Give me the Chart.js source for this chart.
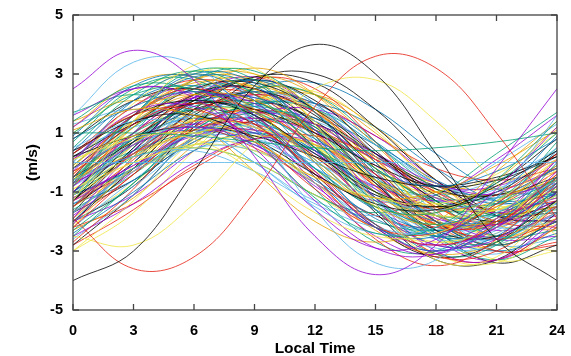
<!DOCTYPE html>
<html>
<head>
<meta charset="utf-8">
<script src="https://cdn.jsdelivr.net/npm/chart.js@4.4.0/dist/chart.umd.min.js"></script>
<style>
  html, body { margin: 0; padding: 0; background: #fff; }
  canvas { display: block; }
</style>
</head>
<body>
<canvas id="chart" width="571" height="356"></canvas>
<script>
const hours = [0, 3, 6, 9, 12, 15, 18, 21, 24];
const xTicks = [0, 3, 6, 9, 12, 15, 18, 21, 24];
const yTicks = [-5, -3, -1, 1, 3, 5];

// gnuplot style line colours
const palette = ['#9400d3', '#009e73', '#56b4e9', '#e69f00', '#f0e442', '#0072b2', '#e51e10', '#000000'];

// the few curves that stick out of the bundle
const outliers = [
  [2.5, 3.8, 2.8, 0.2, -2.5, -3.8, -2.8, -0.2, 2.5],
  [1.6, 3.4, 3.3, 1.2, -1.6, -3.4, -3.3, -1.2, 1.6],
  [-4.0, -3.0, -0.3, 2.6, 4.0, 3.0, 0.3, -2.6, -4.0],
  [-1.9, -3.6, -3.2, -1.0, 1.9, 3.6, 3.2, 1.0, -1.9],
  [-2.5, -2.8, -1.4, 0.7, 2.5, 2.8, 1.4, -0.7, -2.5],
  [-1.3, 1.4, 3.3, 3.2, 1.3, -1.4, -3.3, -3.2, -1.3],
  [0, 0, 0, 0, 0, 0, 0, 0, 0],
  [1.0, 1.0, 0.9, 0.7, 0.5, 0.4, 0.5, 0.7, 1.0]
];
const outlierColors = ['#9400d3', '#56b4e9', '#000000', '#e51e10', '#f0e442', '#f0e442', '#56b4e9', '#009e73'];

// the main bundle of curves
const bundle = [
  [1.2, 2.5, 2.2, 0.5, -1.6, -2.9, -2.6, -0.9, 1.2],
  [1.4, 2.6, 2.4, 0.8, -1.2, -2.4, -2.2, -0.6, 1.4],
  [0.5, 1.4, 1.2, 0.0, -1.5, -2.4, -2.2, -1.0, 0.5],
  [1.1, 1.8, 1.6, 0.7, -0.5, -1.2, -1.0, -0.1, 1.1],
  [0.1, 0.9, 0.8, -0.3, -1.7, -2.5, -2.4, -1.3, 0.1],
  [0.9, 2.6, 2.9, 1.6, -0.5, -2.2, -2.5, -1.2, 0.9],
  [0.3, 1.6, 1.8, 0.8, -0.9, -2.2, -2.4, -1.4, 0.3],
  [0.4, 1.4, 1.6, 0.8, -0.4, -1.4, -1.6, -0.8, 0.4],
  [0.1, 1.7, 1.9, 0.7, -1.3, -2.9, -3.1, -1.9, 0.1],
  [1.0, 2.3, 2.5, 1.5, -0.2, -1.5, -1.7, -0.7, 1.0],
  [-0.6, 0.2, 0.4, -0.3, -1.4, -2.2, -2.4, -1.7, -0.6],
  [1.2, 2.7, 2.9, 1.8, 0.0, -1.5, -1.7, -0.6, 1.2],
  [0.1, 0.8, 1.0, 0.4, -0.5, -1.2, -1.4, -0.8, 0.1],
  [0.0, 2.1, 3.0, 2.1, 0.0, -2.1, -3.0, -2.1, 0.0],
  [-0.4, 1.3, 2.0, 1.3, -0.4, -2.1, -2.8, -2.1, -0.4],
  [0.3, 1.6, 2.1, 1.6, 0.3, -1.0, -1.5, -1.0, 0.3],
  [-0.8, 0.6, 1.2, 0.6, -0.8, -2.2, -2.8, -2.2, -0.8],
  [0.5, 2.3, 3.1, 2.3, 0.5, -1.3, -2.1, -1.3, 0.5],
  [-0.2, 0.8, 1.2, 0.8, -0.2, -1.2, -1.6, -1.2, -0.2],
  [0.1, 1.7, 2.3, 1.7, 0.1, -1.5, -2.1, -1.5, 0.1],
  [-1.1, 0.0, 0.5, 0.0, -1.1, -2.2, -2.7, -2.2, -1.1],
  [0.8, 1.9, 2.4, 1.9, 0.8, -0.3, -0.8, -0.3, 0.8],
  [-0.5, 1.6, 2.5, 1.6, -0.5, -2.6, -3.5, -2.6, -0.5],
  [0.2, 0.9, 1.2, 0.9, 0.2, -0.5, -0.8, -0.5, 0.2],
  [-0.3, 1.6, 2.4, 1.6, -0.3, -2.2, -3.0, -2.2, -0.3],
  [-0.8, 1.6, 3.1, 2.8, 0.8, -1.6, -3.1, -2.8, -0.8],
  [-1.1, 0.6, 1.6, 1.4, 0.1, -1.6, -2.6, -2.4, -1.1],
  [-0.1, 1.4, 2.3, 2.1, 0.9, -0.6, -1.5, -1.3, -0.1],
  [-0.6, 0.6, 1.4, 1.2, 0.2, -1.0, -1.8, -1.6, -0.6],
  [-0.5, 1.6, 2.9, 2.6, 0.9, -1.2, -2.5, -2.2, -0.5],
  [-1.5, 0.3, 1.4, 1.2, -0.3, -2.1, -3.2, -3.0, -1.5],
  [0.2, 1.3, 2.0, 1.8, 1.0, -0.1, -0.8, -0.6, 0.2],
  [-1.0, 1.0, 2.2, 2.0, 0.4, -1.6, -2.8, -2.6, -1.0],
  [-0.5, 1.0, 1.8, 1.7, 0.5, -1.0, -1.8, -1.7, -0.5],
  [-1.7, -0.3, 0.5, 0.4, -0.7, -2.1, -2.9, -2.8, -1.7],
  [-0.4, 1.6, 2.7, 2.5, 1.0, -1.0, -2.1, -1.9, -0.4],
  [-0.9, 0.0, 0.6, 0.4, -0.3, -1.2, -1.8, -1.6, -0.9],
  [-0.7, 1.6, 3.0, 2.7, 0.9, -1.4, -2.8, -2.5, -0.7],
  [-0.7, 1.0, 2.0, 1.8, 0.5, -1.2, -2.2, -2.0, -0.7],
  [-1.3, 0.7, 2.3, 2.5, 1.3, -0.7, -2.3, -2.5, -1.3],
  [-1.9, 0.4, 2.2, 2.5, 1.1, -1.2, -3.0, -3.3, -1.9],
  [-0.6, 0.8, 1.9, 2.0, 1.2, -0.2, -1.3, -1.4, -0.6],
  [-1.7, -0.2, 1.0, 1.2, 0.3, -1.2, -2.4, -2.6, -1.7],
  [-0.8, 1.2, 2.8, 3.0, 1.8, -0.2, -1.8, -2.0, -0.8],
  [-0.9, 0.2, 1.0, 1.2, 0.5, -0.6, -1.4, -1.6, -0.9],
  [-1.0, 0.7, 2.0, 2.2, 1.2, -0.5, -1.8, -2.0, -1.0],
  [-2.2, -0.4, 1.1, 1.3, 0.2, -1.6, -3.1, -3.3, -2.2],
  [-0.2, 1.3, 2.5, 2.7, 1.8, 0.3, -0.9, -1.1, -0.2],
  [-1.3, -0.1, 0.9, 1.1, 0.3, -0.9, -1.9, -2.1, -1.3],
  [-1.3, 1.0, 2.8, 3.1, 1.7, -0.6, -2.4, -2.7, -1.3],
  [-1.5, 0.3, 1.7, 1.9, 0.9, -0.9, -2.3, -2.5, -1.5],
  [-0.6, 0.3, 1.0, 1.1, 0.6, -0.3, -1.0, -1.1, -0.6],
  [-2.2, -0.1, 1.5, 1.8, 0.6, -1.5, -3.1, -3.4, -2.2],
  [-2.0, 0.0, 2.0, 2.8, 2.0, 0.0, -2.0, -2.8, -2.0],
  [-2.0, -0.4, 1.2, 1.8, 1.2, -0.4, -2.0, -2.6, -2.0],
  [-1.3, 0.4, 2.1, 2.8, 2.1, 0.4, -1.3, -2.0, -1.3],
  [-1.2, -0.1, 1.0, 1.5, 1.0, -0.1, -1.2, -1.7, -1.2],
  [-2.5, -0.7, 1.1, 1.9, 1.1, -0.7, -2.5, -3.3, -2.5],
  [-0.7, 0.6, 1.9, 2.4, 1.9, 0.6, -0.7, -1.2, -0.7],
  [-1.9, 0.2, 2.3, 3.2, 2.3, 0.2, -1.9, -2.8, -1.9],
  [-1.2, -0.3, 0.6, 0.9, 0.6, -0.3, -1.2, -1.5, -1.2],
  [-2.4, -1.0, 0.4, 1.0, 0.4, -1.0, -2.4, -3.0, -2.4],
  [-1.5, 0.1, 1.7, 2.3, 1.7, 0.1, -1.5, -2.1, -1.5],
  [-2.0, -0.2, 1.6, 2.4, 1.6, -0.2, -2.0, -2.8, -2.0],
  [-0.7, 0.3, 1.3, 1.7, 1.3, 0.3, -0.7, -1.1, -0.7],
  [-2.3, -0.7, 1.3, 2.5, 2.3, 0.7, -1.3, -2.5, -2.3],
  [-2.0, -0.8, 0.7, 1.6, 1.4, 0.2, -1.3, -2.2, -2.0],
  [-1.5, -0.2, 1.5, 2.5, 2.3, 1.0, -0.7, -1.7, -1.5],
  [-3.0, -1.3, 0.8, 2.1, 1.8, 0.1, -2.0, -3.3, -3.0],
  [-1.1, -0.2, 1.0, 1.7, 1.5, 0.6, -0.6, -1.3, -1.1],
  [-2.7, -0.9, 1.4, 2.8, 2.5, 0.7, -1.6, -3.0, -2.7],
  [-1.5, 0.0, 1.8, 2.9, 2.7, 1.2, -0.6, -1.7, -1.5],
  [-2.5, -1.4, 0.0, 0.8, 0.7, -0.4, -1.8, -2.6, -2.5],
  [-1.6, -0.4, 1.1, 2.0, 1.8, 0.6, -0.9, -1.8, -1.6],
  [-2.6, -1.1, 0.9, 2.0, 1.8, 0.3, -1.7, -2.8, -2.6],
  [-2.3, -1.2, 0.6, 2.1, 2.3, 1.2, -0.6, -2.1, -2.3],
  [-3.0, -1.7, 0.4, 2.1, 2.4, 1.1, -1.0, -2.7, -3.0],
  [-1.4, -0.6, 0.8, 1.9, 2.0, 1.2, -0.2, -1.3, -1.4],
  [-2.2, -1.4, -0.2, 0.8, 0.9, 0.2, -1.0, -2.0, -2.2],
  [-2.0, -0.8, 1.2, 2.8, 3.0, 1.8, -0.2, -1.8, -2.0],
  [-2.0, -1.1, 0.4, 1.6, 1.8, 0.9, -0.6, -1.8, -2.0],
  [1.7, 2.3, 1.7, 0.3, -1.1, -1.7, -1.1, 0.3, 1.7],
  [1.3, 1.8, 1.3, 0.0, -1.3, -1.8, -1.3, 0.0, 1.3],
  [1.4, 2.1, 1.4, -0.3, -2.0, -2.7, -2.0, -0.3, 1.4],
  [-0.2, 2.0, 3.1, 2.5, 0.6, -1.6, -2.7, -2.1, -0.2],
  [-0.6, 0.8, 1.5, 1.1, -0.2, -1.6, -2.3, -1.9, -0.6],
  [0.3, 1.9, 2.8, 2.3, 0.9, -0.7, -1.6, -1.1, 0.3],
  [-1.0, 0.8, 1.8, 1.3, -0.4, -2.2, -3.2, -2.7, -1.0],
  [-0.2, 0.8, 1.3, 1.0, 0.2, -0.8, -1.3, -1.0, -0.2],
  [-0.5, 1.2, 2.1, 1.6, 0.1, -1.6, -2.5, -2.0, -0.5],
  [0.2, 1.4, 2.1, 1.7, 0.6, -0.6, -1.3, -0.9, 0.2],
  [-1.3, 0.3, 1.1, 0.7, -0.7, -2.3, -3.1, -2.7, -1.3],
  [-0.8, 1.4, 3.0, 3.0, 1.4, -0.8, -2.4, -2.4, -0.8],
  [-1.0, 0.4, 1.4, 1.4, 0.4, -1.0, -2.0, -2.0, -1.0],
  [-0.8, 1.0, 2.3, 2.3, 1.0, -0.8, -2.1, -2.1, -0.8],
  [-1.7, 0.5, 2.1, 2.1, 0.5, -1.7, -3.3, -3.3, -1.7],
  [0.1, 1.3, 2.2, 2.2, 1.3, 0.1, -0.8, -0.8, 0.1],
  [-0.6, 0.4, 1.0, 1.0, 0.4, -0.6, -1.2, -1.2, -0.6],
  [-1.4, -0.2, 0.6, 0.6, -0.2, -1.4, -2.2, -2.2, -1.4],
  [-0.6, 1.4, 2.8, 2.8, 1.4, -0.6, -2.0, -2.0, -0.6],
  [-1.0, 0.6, 1.7, 1.7, 0.6, -1.0, -2.1, -2.1, -1.0],
  [-1.5, 0.5, 2.2, 2.8, 1.7, -0.3, -2.0, -2.6, -1.5],
  [-1.7, -0.2, 1.1, 1.5, 0.7, -0.8, -2.1, -2.5, -1.7],
  [-0.5, 0.7, 1.8, 2.1, 1.5, 0.3, -0.8, -1.1, -0.5],
  [-2.1, 0.2, 2.2, 2.9, 1.7, -0.6, -2.6, -3.3, -2.1],
  [-1.1, 0.2, 1.4, 1.8, 1.1, -0.2, -1.4, -1.8, -1.1],
  [-2.2, -0.6, 0.8, 1.3, 0.4, -1.2, -2.6, -3.1, -2.2],
  [-1.1, 0.6, 2.1, 2.6, 1.7, 0.0, -1.5, -2.0, -1.1],
  [-1.2, -0.2, 0.6, 0.9, 0.4, -0.6, -1.4, -1.7, -1.2],
  [0.4, 2.1, 2.6, 1.6, -0.2, -1.9, -2.4, -1.4, 0.4],
  [-0.3, 0.8, 1.2, 0.5, -0.7, -1.8, -2.2, -1.5, -0.3],
  [0.8, 2.1, 2.5, 1.7, 0.2, -1.1, -1.5, -0.7, 0.8],
  [0.1, 1.9, 2.5, 1.4, -0.7, -2.5, -3.1, -2.0, 0.1],
  [-0.7, 0.2, 0.5, 0.0, -1.1, -2.0, -2.3, -1.8, -0.7],
  [0.4, 1.2, 1.5, 1.0, 0.0, -0.8, -1.1, -0.6, 0.4],
  [-1.9, -0.2, 1.8, 2.9, 2.3, 0.6, -1.4, -2.5, -1.9],
  [-2.1, -0.7, 0.9, 1.7, 1.3, -0.1, -1.7, -2.5, -2.1],
  [-1.0, 0.3, 1.7, 2.4, 2.0, 0.7, -0.7, -1.4, -1.0],
  [-1.3, -0.3, 0.8, 1.4, 1.1, 0.1, -1.0, -1.6, -1.3],
  [-2.8, -1.1, 0.9, 2.0, 1.4, -0.4, -2.3, -3.4, -2.8],
  [-1.8, -0.3, 1.4, 2.3, 1.8, 0.3, -1.4, -2.3, -1.8],
  [-0.1, 1.6, 2.6, 2.4, 1.1, -0.6, -1.6, -1.4, -0.1],
  [-0.8, 0.3, 0.9, 0.8, 0.0, -1.1, -1.8, -1.6, -0.8],
  [-0.3, 0.7, 1.5, 1.7, 1.1, 0.1, -0.7, -0.9, -0.3],
  [-1.5, 0.6, 2.3, 2.6, 1.3, -0.8, -2.5, -2.8, -1.5],
  [-0.6, 0.6, 1.1, 0.6, -0.6, -1.8, -2.3, -1.8, -0.6],
  [-0.2, 0.9, 2.0, 2.4, 2.0, 0.9, -0.2, -0.6, -0.2],
  [-1.7, -0.6, 0.7, 1.4, 1.3, 0.2, -1.1, -1.8, -1.7],
  [1.6, 2.5, 2.3, 1.1, -0.4, -1.3, -1.1, 0.1, 1.6],
  [0.7, 2.5, 2.8, 1.4, -0.9, -2.7, -3.0, -1.6, 0.7],
  [-0.7, 1.3, 2.5, 2.3, 0.7, -1.3, -2.5, -2.3, -0.7],
  [-0.6, 1.2, 2.6, 2.8, 1.8, 0.0, -1.4, -1.6, -0.6],
  [1.0, 2.4, 3.0, 2.4, 1.0, -0.4, -1.0, -0.4, 1.0],
  [-1.1, -0.2, 1.3, 2.5, 2.7, 1.8, 0.3, -0.9, -1.1],
  [-2.8, -1.6, -0.1, 0.8, 0.6, -0.6, -2.1, -3.0, -2.8]
];

const font = 'Liberation Sans, Arial, Helvetica, sans-serif';

function toPoints(vals) {
    return vals.map((v, i) => ({x: hours[i], y: v}));
}

let datasets = [];
outliers.forEach((vals, i) => {
    datasets.push({data: toPoints(vals), borderColor: outlierColors[i]});
});
bundle.forEach((vals, i) => {
    datasets.push({data: toPoints(vals), borderColor: palette[i % palette.length]});
});

// box round the plot with ticks pointing inwards on all four sides
const frameTicks = {
    id: 'frameTicks',
    afterDatasetsDraw(chart) {
        const {ctx, chartArea: a, scales: {x, y}} = chart;
        ctx.save();
        ctx.strokeStyle = '#444';
        ctx.lineWidth = 1.3;
        ctx.strokeRect(a.left, a.top, a.right - a.left, a.bottom - a.top);
        ctx.beginPath();
        x.ticks.forEach(t => {
            const px = x.getPixelForValue(t.value);
            ctx.moveTo(px, a.bottom); ctx.lineTo(px, a.bottom - 6);
            ctx.moveTo(px, a.top); ctx.lineTo(px, a.top + 6);
        });
        y.ticks.forEach(t => {
            const py = y.getPixelForValue(t.value);
            ctx.moveTo(a.left, py); ctx.lineTo(a.left + 6, py);
            ctx.moveTo(a.right, py); ctx.lineTo(a.right - 6, py);
        });
        ctx.stroke();
        ctx.restore();
    }
};

new Chart(document.getElementById('chart'), {
    type: 'line',
    data: {datasets: datasets},
    options: {
        responsive: false,
        animation: false,
        devicePixelRatio: 1,
        layout: {padding: {top: 15, right: 14, left: 0, bottom: 0}},
        plugins: {legend: {display: false}, tooltip: {enabled: false}},
        elements: {point: {radius: 0}, line: {borderWidth: 0.8, tension: 0.4}},
        scales: {
            x: {
                type: 'linear', min: 0, max: 24,
                afterBuildTicks: s => { s.ticks = xTicks.map(v => ({value: v})); },
                afterFit: s => { s.height = 46; s.paddingLeft = 0; s.paddingRight = 0; },
                grid: {display: false, drawTicks: false},
                border: {display: false},
                ticks: {padding: 12, color: '#000', font: {family: font, size: 14.5, weight: 'bold'}},
                title: {display: true, text: 'Local Time', color: '#000',
                        font: {family: font, size: 15.5, weight: 'bold', lineHeight: 1},
                        padding: {top: 0, bottom: 0}}
            },
            y: {
                type: 'linear', min: -5, max: 5,
                afterBuildTicks: s => { s.ticks = yTicks.map(v => ({value: v})); },
                afterFit: s => { s.width = 73; s.paddingTop = 0; s.paddingBottom = 0; },
                grid: {display: false, drawTicks: false},
                border: {display: false},
                ticks: {padding: 10, color: '#000', font: {family: font, size: 14.5, weight: 'bold'}},
                title: {display: true, text: '(m/s)', color: '#000',
                        font: {family: font, size: 15.5, weight: 'bold', lineHeight: 1},
                        padding: {top: 25, bottom: 0}}
            }
        }
    },
    plugins: [frameTicks]
});
</script>
</body>
</html>
